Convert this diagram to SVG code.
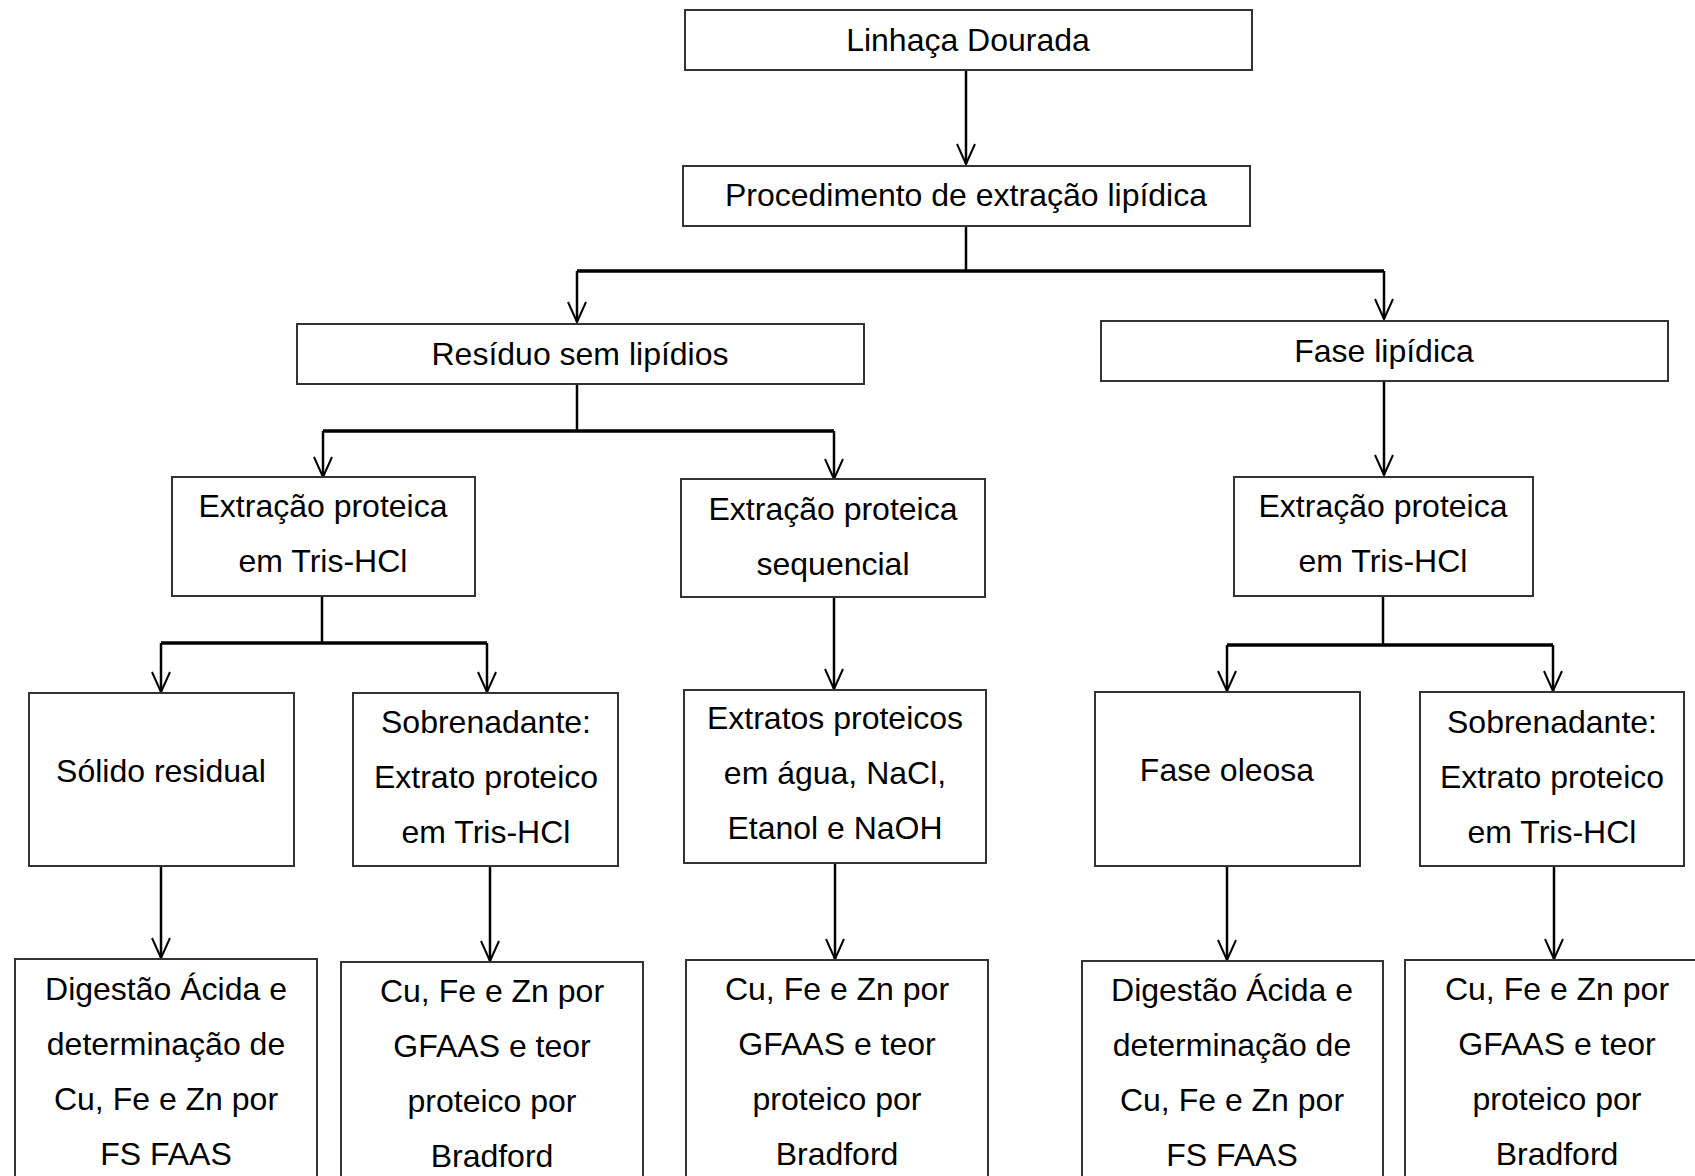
<svg xmlns="http://www.w3.org/2000/svg" width="1695" height="1176" viewBox="0 0 1695 1176">
<style>
.box{fill:#fff;stroke:#333;stroke-width:2}
.t{font-family:"Liberation Sans",Arial,sans-serif;font-size:32px;fill:#000;text-anchor:middle}
.c{fill:none;stroke:#000;stroke-width:2.5}
.h{fill:none;stroke:#000;stroke-width:3.5}
</style>
<defs>
<marker id="ah" markerUnits="userSpaceOnUse" markerWidth="24" markerHeight="24" refX="0" refY="0" viewBox="-22 -12 24 24" orient="auto" overflow="visible">
<path d="M-20,-9 L0,0 L-20,9" fill="none" stroke="#000" stroke-width="2"/>
</marker>
</defs>
<rect width="1695" height="1176" fill="#fff"/>
<g id="connectors">
<line class="c" x1="966" y1="70" x2="966" y2="164" marker-end="url(#ah)"/>
<line class="c" x1="966" y1="226" x2="966" y2="271"/>
<line class="h" x1="577" y1="271" x2="1384" y2="271"/>
<line class="c" x1="577" y1="271" x2="577" y2="322" marker-end="url(#ah)"/>
<line class="c" x1="1384" y1="271" x2="1384" y2="319" marker-end="url(#ah)"/>
<line class="c" x1="577" y1="384" x2="577" y2="431"/>
<line class="h" x1="323" y1="431" x2="834" y2="431"/>
<line class="c" x1="323" y1="431" x2="323" y2="477" marker-end="url(#ah)"/>
<line class="c" x1="834" y1="431" x2="834" y2="479" marker-end="url(#ah)"/>
<line class="c" x1="1384" y1="381" x2="1384" y2="475" marker-end="url(#ah)"/>
<line class="c" x1="322" y1="596" x2="322" y2="643"/>
<line class="h" x1="161" y1="643" x2="487" y2="643"/>
<line class="c" x1="161" y1="643" x2="161" y2="692" marker-end="url(#ah)"/>
<line class="c" x1="487" y1="643" x2="487" y2="692" marker-end="url(#ah)"/>
<line class="c" x1="834" y1="597" x2="834" y2="689" marker-end="url(#ah)"/>
<line class="c" x1="1383" y1="596" x2="1383" y2="645"/>
<line class="h" x1="1227" y1="645" x2="1553" y2="645"/>
<line class="c" x1="1227" y1="645" x2="1227" y2="691" marker-end="url(#ah)"/>
<line class="c" x1="1553" y1="645" x2="1553" y2="691" marker-end="url(#ah)"/>
<line class="c" x1="161" y1="866" x2="161" y2="958" marker-end="url(#ah)"/>
<line class="c" x1="490" y1="866" x2="490" y2="961" marker-end="url(#ah)"/>
<line class="c" x1="835" y1="863" x2="835" y2="959" marker-end="url(#ah)"/>
<line class="c" x1="1227" y1="866" x2="1227" y2="960" marker-end="url(#ah)"/>
<line class="c" x1="1554" y1="866" x2="1554" y2="959" marker-end="url(#ah)"/>
</g>
<g id="n1"><rect class="box" x="685" y="10" width="567" height="60"/><text class="t" x="968" y="51">Linhaça Dourada</text></g>
<g id="n2"><rect class="box" x="683" y="166" width="567" height="60"/><text class="t" x="966" y="206">Procedimento de extração lipídica</text></g>
<g id="n3"><rect class="box" x="297" y="324" width="567" height="60"/><text class="t" x="580" y="365">Resíduo sem lipídios</text></g>
<g id="n4"><rect class="box" x="1101" y="321" width="567" height="60"/><text class="t" x="1384" y="362">Fase lipídica</text></g>
<g id="n5"><rect class="box" x="172" y="477" width="303" height="119"/><text class="t" x="323" y="517">Extração proteica</text><text class="t" x="323" y="572">em Tris-HCl</text></g>
<g id="n6"><rect class="box" x="681" y="479" width="304" height="118"/><text class="t" x="833" y="520">Extração proteica</text><text class="t" x="833" y="575">sequencial</text></g>
<g id="n7"><rect class="box" x="1234" y="477" width="299" height="119"/><text class="t" x="1383" y="517">Extração proteica</text><text class="t" x="1383" y="572">em Tris-HCl</text></g>
<g id="n8"><rect class="box" x="29" y="693" width="265" height="173"/><text class="t" x="161" y="782">Sólido residual</text></g>
<g id="n9"><rect class="box" x="353" y="693" width="265" height="173"/><text class="t" x="486" y="733">Sobrenadante:</text><text class="t" x="486" y="788">Extrato proteico</text><text class="t" x="486" y="843">em Tris-HCl</text></g>
<g id="n10"><rect class="box" x="684" y="690" width="302" height="173"/><text class="t" x="835" y="729">Extratos proteicos</text><text class="t" x="835" y="784">em água, NaCl,</text><text class="t" x="835" y="839">Etanol e NaOH</text></g>
<g id="n11"><rect class="box" x="1095" y="692" width="265" height="174"/><text class="t" x="1227" y="781">Fase oleosa</text></g>
<g id="n12"><rect class="box" x="1420" y="692" width="264" height="174"/><text class="t" x="1552" y="733">Sobrenadante:</text><text class="t" x="1552" y="788">Extrato proteico</text><text class="t" x="1552" y="843">em Tris-HCl</text></g>
<g id="n13"><rect class="box" x="15" y="959" width="302" height="240"/><text class="t" x="166" y="1000">Digestão Ácida e</text><text class="t" x="166" y="1055">determinação de</text><text class="t" x="166" y="1110">Cu, Fe e Zn por</text><text class="t" x="166" y="1165">FS FAAS</text></g>
<g id="n14"><rect class="box" x="341" y="962" width="302" height="240"/><text class="t" x="492" y="1002">Cu, Fe e Zn por</text><text class="t" x="492" y="1057">GFAAS e teor</text><text class="t" x="492" y="1112">proteico por</text><text class="t" x="492" y="1167">Bradford</text></g>
<g id="n15"><rect class="box" x="686" y="960" width="302" height="240"/><text class="t" x="837" y="1000">Cu, Fe e Zn por</text><text class="t" x="837" y="1055">GFAAS e teor</text><text class="t" x="837" y="1110">proteico por</text><text class="t" x="837" y="1165">Bradford</text></g>
<g id="n16"><rect class="box" x="1082" y="961" width="301" height="240"/><text class="t" x="1232" y="1001">Digestão Ácida e</text><text class="t" x="1232" y="1056">determinação de</text><text class="t" x="1232" y="1111">Cu, Fe e Zn por</text><text class="t" x="1232" y="1166">FS FAAS</text></g>
<g id="n17"><rect class="box" x="1405" y="960" width="305" height="240"/><text class="t" x="1557" y="1000">Cu, Fe e Zn por</text><text class="t" x="1557" y="1055">GFAAS e teor</text><text class="t" x="1557" y="1110">proteico por</text><text class="t" x="1557" y="1165">Bradford</text></g>
</svg>
